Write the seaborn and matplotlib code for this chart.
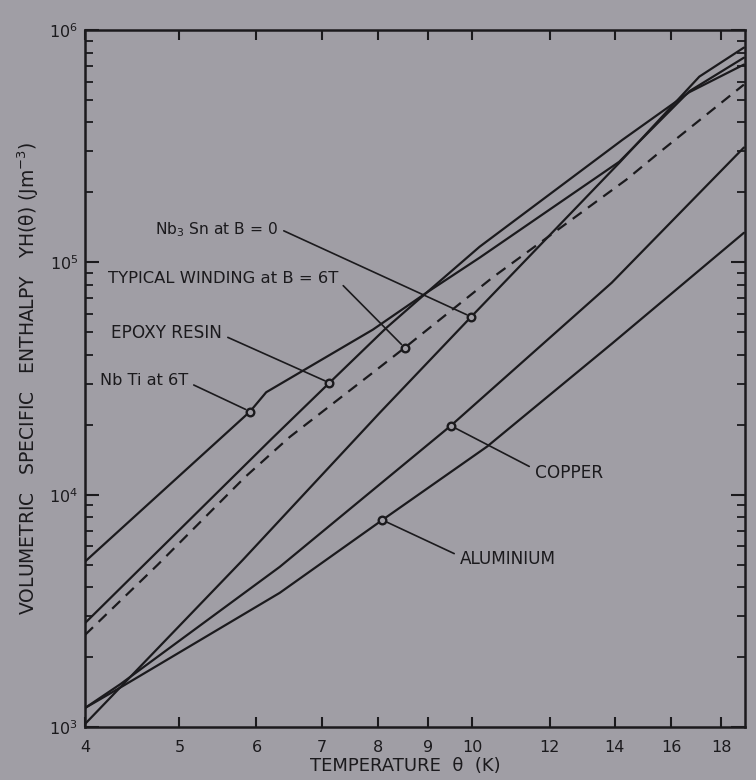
import matplotlib

matplotlib.use("Agg")

import matplotlib.pyplot as plt
import pandas as pd
import seaborn as sns
from matplotlib.ticker import FixedFormatter, FixedLocator, LogLocator, NullFormatter, NullLocator

# values: temperature (K) vs volumetric enthalpy (J m^-3)
NBTI_T = [4.0, 5.91, 6.14, 7.90, 8.97, 10.17, 14.15, 16.7, 19.0]
NBTI_H = [5150, 22800, 27600, 51300, 74000, 104700, 271000, 545000, 760000]

EPOXY_T = [4.0, 6.22, 7.13, 8.16, 8.97, 10.17, 14.26, 16.7, 19.0]
EPOXY_H = [2800, 17400, 30300, 52300, 74000, 116700, 337000, 540000, 710000]

WINDING_T = [4.0, 4.75, 5.84, 6.49, 7.90, 8.52, 10.48, 14.39, 15.55, 19.0]
WINDING_H = [2490, 4990, 11900, 17700, 33500, 42900, 85900, 227000, 296700, 582000]

NB3SN_T = [4.0, 5.81, 8.03, 9.97, 14.15, 17.1, 19.0]
NB3SN_H = [1030, 5240, 22500, 58300, 268000, 630000, 840000]

COPPER_T = [4.0, 4.35, 6.34, 9.50, 13.9, 19.0]
COPPER_H = [1207, 1530, 4890, 19800, 81700, 312000]

ALUMINIUM_T = [4.0, 4.35, 6.34, 8.08, 10.35, 13.9, 19.0]
ALUMINIUM_H = [1207, 1480, 3780, 7780, 16100, 44600, 134000]

# labelled points on each curve
MARK_NAME = ["Nb$_3$ Sn at B = 0", "TYPICAL WINDING at B = 6T", "EPOXY RESIN",
             "Nb Ti at 6T", "COPPER", "ALUMINIUM"]
MARK_T = [9.97, 8.52, 7.13, 5.91, 9.50, 8.08]
MARK_H = [58300, 42900, 30300, 22800, 19800, 7780]

X_TICKS = [4, 5, 6, 7, 8, 9, 10, 12, 14, 16, 18]

BG = "#a09ea5"
INK = "#1b1a1d"

rows = []
for name, ts, hs, dashed in [
    ("NbTi", NBTI_T, NBTI_H, False),
    ("epoxy", EPOXY_T, EPOXY_H, False),
    ("winding", WINDING_T, WINDING_H, True),
    ("Nb3Sn", NB3SN_T, NB3SN_H, False),
    ("copper", COPPER_T, COPPER_H, False),
    ("aluminium", ALUMINIUM_T, ALUMINIUM_H, False),
]:
    for t, h in zip(ts, hs):
        rows.append({"curve": name, "T": t, "H": h, "dashed": dashed})
data = pd.DataFrame(rows)
marks = pd.DataFrame({"name": MARK_NAME, "T": MARK_T, "H": MARK_H})

sns.set_theme(style="ticks")
plt.rcParams["font.family"] = ["DejaVu Sans"]

fig = plt.figure(figsize=(7.56, 7.80), dpi=100, facecolor=BG)
ax = fig.add_axes([85 / 756, 53 / 780, 660 / 756, 697 / 780], facecolor=BG)
ax.set_xscale("log")
ax.set_yscale("log")

for name, group in data.groupby("curve", sort=False):
    ls = (0, (5, 3.5)) if group["dashed"].iloc[0] else "-"
    sns.lineplot(data=group, x="T", y="H", ax=ax, color=INK, lw=1.6,
                 linestyle=ls, sort=False, estimator=None, legend=False)

sns.scatterplot(data=marks, x="T", y="H", ax=ax, s=30, marker="o",
                facecolor=BG, edgecolor=INK, linewidth=1.7, zorder=5, legend=False)

# label text placement (axes fraction), size, and where the leader leaves the text
label_pos = [
    (0.2924, 0.713, "right", 11.2, (1.0, 0.6)),
    (0.3833, 0.644, "right", 11.8, (1.0, 0.35)),
    (0.2076, 0.5653, "right", 12.2, (1.0, 0.4)),
    (0.156, 0.4978, "right", 11.6, (1.0, 0.35)),
    (0.6818, 0.3644, "left", 12.2, (0.0, 0.7)),
    (0.5682, 0.241, "left", 12.2, (0.0, 0.65)),
]
for (name, t, h), (tx, ty, ha, fs, rel) in zip(zip(MARK_NAME, MARK_T, MARK_H), label_pos):
    ax.annotate(name, xy=(t, h), xycoords="data", xytext=(tx, ty),
                textcoords="axes fraction", ha=ha, va="center", fontsize=fs,
                color=INK,
                arrowprops=dict(arrowstyle="-", color=INK, lw=1.2,
                                shrinkA=2, shrinkB=3.5, relpos=rel))

ax.set_xlim(4, 19.05)
ax.set_ylim(1e3, 1e6)
ax.xaxis.set_major_locator(FixedLocator(X_TICKS))
ax.xaxis.set_major_formatter(FixedFormatter([str(v) for v in X_TICKS]))
ax.xaxis.set_minor_locator(NullLocator())
ax.xaxis.set_minor_formatter(NullFormatter())
ax.yaxis.set_major_locator(LogLocator(base=10))
ax.yaxis.set_minor_locator(LogLocator(base=10, subs=range(2, 10)))
ax.yaxis.set_minor_formatter(NullFormatter())

ax.tick_params(which="both", direction="in", top=True, right=True,
               color=INK, labelcolor=INK, labelsize=11.5)
ax.tick_params(axis="x", which="major", length=7, width=1.5, pad=9)
ax.tick_params(axis="y", which="major", length=10, width=1.5, pad=5)
ax.tick_params(axis="y", which="minor", length=6, width=1.3)
for sp in ax.spines.values():
    sp.set_color(INK)
    sp.set_linewidth(1.8)

ax.set_xlabel("TEMPERATURE  θ  (K)", fontsize=13, color=INK)
ax.xaxis.set_label_coords(0.486, -0.043)
ax.set_ylabel("VOLUMETRIC   SPECIFIC   ENTHALPY   YH(θ) (Jm$^{-3}$)",
              fontsize=13.5, color=INK)
ax.yaxis.set_label_coords(-0.066, 0.5)

fig.savefig("out.png", dpi=100, facecolor=BG)
